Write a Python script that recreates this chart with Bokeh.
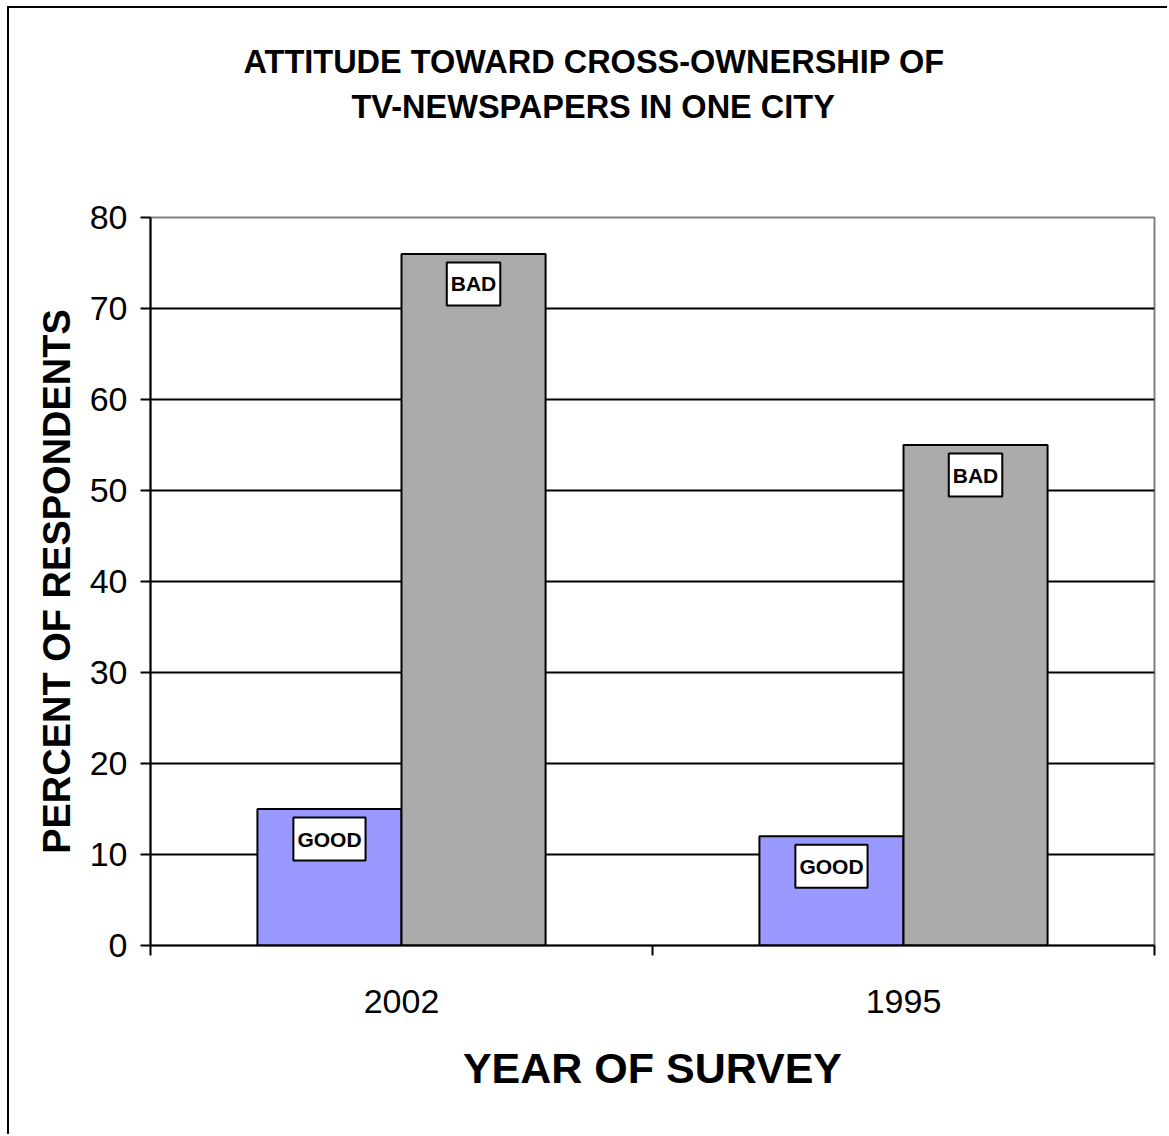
from bokeh.plotting import figure
from bokeh.models import Range1d, FixedTicker, Title, ColumnDataSource
from bokeh.transform import dodge
from bokeh.core.properties import value
from bokeh.embed import file_html
from bokeh.resources import INLINE

# Survey data
years = ["2002", "1995"]
series = ["GOOD", "BAD"]
good = [15, 12]
bad = [76, 55]
y_ticks = [0, 10, 20, 30, 40, 50, 60, 70, 80]
title_lines = ["ATTITUDE TOWARD CROSS-OWNERSHIP OF", "TV-NEWSPAPERS IN ONE CITY"]

GOOD_COLOR = "#9999FF"
BAD_COLOR = "#ABABAB"
SANS = "Liberation Sans"

pos = [i + 0.5 for i in range(len(years))]
src = ColumnDataSource(dict(x=pos, year=years, good=good, bad=bad,
                            good_lbl=[series[0]] * len(years),
                            bad_lbl=[series[1]] * len(years)))

p = figure(width=1160, height=1128,
           x_range=Range1d(0, len(years)), y_range=Range1d(y_ticks[0], y_ticks[-1]),
           output_backend="svg", toolbar_location=None,
           min_border_left=141, min_border_right=15,
           min_border_top=209, min_border_bottom=191)
p.styles = {"margin-left": "7px", "margin-top": "6px",
            "border-left": "2px solid black", "border-top": "2px solid black"}
p.background_fill_color = "white"
p.border_fill_color = "white"
p.outline_line_color = "#808080"
p.outline_line_width = 2

# grid
p.xgrid.visible = False
p.ygrid.ticker = FixedTicker(ticks=y_ticks[1:-1])
p.ygrid.grid_line_color = "black"
p.ygrid.grid_line_width = 2

# bars
bw = 0.287
p.vbar(x=dodge("x", -bw / 2), top="good", width=bw, source=src,
       fill_color=GOOD_COLOR, line_color="black", line_width=2)
p.vbar(x=dodge("x", bw / 2), top="bad", width=bw, source=src,
       fill_color=BAD_COLOR, line_color="black", line_width=2)

# boxed series labels near the bar tops
for top, lbl, off in (("good", "good_lbl", -bw / 2), ("bad", "bad_lbl", bw / 2)):
    p.text(x=dodge("x", off), y=top, text=lbl, source=src, y_offset=30,
           text_align="center", text_baseline="middle",
           text_font=value(SANS), text_font_style="bold", text_font_size="21px",
           background_fill_color="white", border_line_color="black",
           border_line_width=2, padding=(4, 10))

# x axis: year names centred, tick marks between categories
p.xaxis.ticker = FixedTicker(ticks=pos, minor_ticks=list(range(len(years) + 1)))
p.xaxis.major_label_overrides = {v: y for v, y in zip(pos, years)}
p.xaxis.major_tick_in = 0
p.xaxis.major_tick_out = 0
p.xaxis.minor_tick_in = 0
p.xaxis.minor_tick_out = 10
p.xaxis.minor_tick_line_color = "black"
p.xaxis.minor_tick_line_width = 2
p.xaxis.major_label_standoff = 34
p.xaxis.axis_label = "YEAR OF SURVEY"
p.xaxis.axis_label_standoff = 28

p.yaxis.ticker = FixedTicker(ticks=y_ticks, minor_ticks=[])
p.yaxis.major_tick_in = 0
p.yaxis.major_tick_out = 10
p.yaxis.major_tick_line_width = 2
p.yaxis.major_label_standoff = 13
p.yaxis.axis_label = "PERCENT OF RESPONDENTS"
p.yaxis.axis_label_standoff = 9

for ax in (p.xaxis[0], p.yaxis[0]):
    ax.axis_line_color = "black"
    ax.axis_line_width = 2
    ax.major_tick_line_color = "black"
    ax.major_label_text_font = SANS
    ax.major_label_text_font_size = "34px"
    ax.major_label_text_color = "black"
    ax.axis_label_text_font = SANS
    ax.axis_label_text_font_style = "bold"
    ax.axis_label_text_color = "black"
p.xaxis.axis_label_text_font_size = "43px"
p.yaxis.axis_label_text_font_size = "38px"

# gap between the plot area and the title block
p.add_layout(Title(text=" ", standoff=86, text_font_size="1px"), "above")

# two-line title (later lines sit further from the frame)
for txt, off in ((title_lines[1], 201), (title_lines[0], 93)):
    p.add_layout(Title(text=txt, align="left", offset=off, standoff=7,
                       text_font=SANS, text_font_style="bold",
                       text_font_size="32.5px", text_color="black"), "above")

open("out.html", "w").write(file_html(p, INLINE))
